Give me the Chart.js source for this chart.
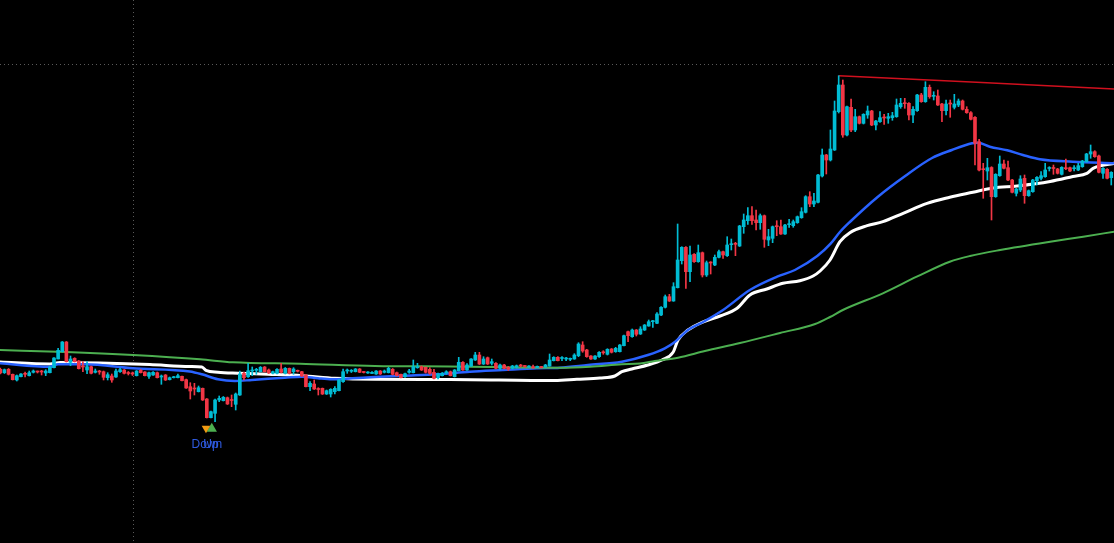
<!DOCTYPE html>
<html>
<head>
<meta charset="utf-8">
<script src="https://cdn.jsdelivr.net/npm/chart.js@4.4.1/dist/chart.umd.min.js"></script>
<style>
  html, body { margin: 0; padding: 0; background: #000; overflow: hidden; }
  #wrap { width: 1114px; height: 543px; position: relative; }
</style>
</head>
<body>
<div id="wrap"><canvas id="chart"></canvas></div>
<script>
// Candle data, one entry per bar
const opens = [
  173.7,170.3,173.7,168.7,163,166.3,169.3,167.3,170.7,171.5,171.5,170,170.3,175.3,184,191.3,201,180.7,184.7,182,
  176.5,173,176.3,170.7,171.5,171.3,165.3,167,166,171.3,173,170,169.7,167.3,172.7,171,166.7,168,170.3,166,
  168,163.3,165.3,165.3,166.7,163.3,156.3,155,151.3,154.7,144,125.3,129.7,143,142.3,145.3,143,138.7,148,169.7,
  166.3,172,172.7,171.3,176,173,169.7,169.7,174,169.7,174.7,171.3,172.5,171.3,168,156.3,159,154,154.7,149,
  149,151.3,152.3,161.3,172,171.7,171.3,174,170.9,170,169.5,169,172,170.7,170.3,173.7,170.3,168.7,166.3,170.7,
  170.3,175.3,176.3,175.7,173.7,170.7,165.3,167.3,170,171.3,166.3,172.3,180.7,173,177,183,188,179,185.3,179.7,
  179.7,174.7,178,175.7,174.7,175.7,177.5,176.9,176,176.3,175.7,176,176,177,182.3,185.7,184.5,184,183.7,184,
  187.3,198,193,187,184,186.3,190.7,188.7,194,191.3,191.3,197.3,211.3,206.3,213,209,213,217,221.3,219.7,
  228,235.7,246.3,242,255.3,282.3,295.7,271.3,288.7,281.3,290.3,268,280.5,278,285.7,291.3,287.3,298.3,299.3,297,
  316.3,322.3,327.3,323,320.3,327.3,303,304.7,316.7,316.3,309,318.3,317.3,320.3,325.3,330.7,346.3,339,340.7,367,
  388,383,393,431.3,458,408,435.7,413,426.3,419.7,428,432,418,421.3,425.5,424.7,425.3,426.3,436.3,440,
  439.7,428,432.3,448,441.3,455.7,446.7,447,439,432.3,439.3,435.7,438,442,433.7,430.3,425.7,401.3,373.7,372,
  375.5,346.3,367.3,379,375.3,363,349.7,353,364.7,347.3,351.3,362.3,364.7,366.3,374.5,375.3,374,368.7,374.7,375.3,
  374.3,373,376.3,381.3,389,391.3,387,369.7,373.7,365.3
];
const highs = [
  175,174,174.5,169,168,169.5,171,172,173,172,172.7,173.3,176.5,185.5,194.7,201.5,201.5,187,185.3,182.5,
  181.3,181.3,177,174,172.7,172,170.3,169,174,175,173.5,171.5,171,172.5,173.5,171.5,171,171.5,171,168,
  168.5,166,166.7,169,167,164,160.3,159.7,157,155,144.5,132,144,147,146.5,146,148,150,172,171,
  179.7,176,174.7,176.5,176.5,174,172,174.5,179.7,175.5,175,175.3,173,171.7,168.5,161.3,163,155.3,155,153,
  154.3,156.3,163.5,174,174,173.5,174.5,174.5,171.5,171.5,171.3,172.5,172.5,173,175.7,174.5,171,169,170,173.7,
  183,179.7,177,176,175.3,173.7,170,170.5,172.3,172,173.5,185.7,181.3,179.3,184.5,190.7,190.7,186.3,186,184,
  180.5,179,178.7,176.5,177.7,178,178.7,177.7,177.5,178,177,176.7,178.7,189,186.3,186.5,186.3,185.7,185,189.3,
  200.3,201.3,193.7,187.5,187.5,191.3,192.3,194.3,194.5,195.7,198.5,208,212,214,213.5,216.3,218.5,223,222.7,230.3,
  236.5,248,248.7,260.3,319,296.3,296.3,297,289.3,298,291,282,281.3,288,293,292,306.3,304,300.7,317.7,
  329,335.3,336.3,333,329,328,313.7,317,322.3,323,318.7,323.7,323,327,335.3,347.3,351.3,349.7,368.7,394,
  388.7,413,442,467.3,463,437,444,433.7,427,429.3,437,432.7,422.7,431.3,428.7,429.7,430.7,444,444.7,444.7,
  440.3,436.3,448.7,449.7,461.3,458,451.3,453,439.7,443,443,448.7,444,443,436.3,431.3,426.3,403.7,379.7,384.7,
  376.3,369.3,387,383,382,363.7,354.7,367.3,368,353,363.7,366.3,371.3,379.7,376.3,378,374.7,376.3,384,376,
  377.3,379.7,382.7,389.7,398,392.3,388,375.3,374.3,371.3
];
const lows = [
  169,169.5,168,163,162,166,166,167,170,170,168,167.3,170,175,184,191,181,177.3,181,174,
  171.3,169.3,169,170,168.7,163,163,160.7,165.5,170.7,169,168,167.5,167,170,167,164.7,167.5,165,158.7,
  162.5,163,165,165,162,154.5,144,148,151,142.5,125,125,121.3,141.3,142,138.5,136.3,133,147.5,163,
  165.5,167.3,168.7,171,171,169.5,169,169,170,169,169,168.7,171,166.5,156,152.3,153.5,148,148.5,148.5,
  146,149,152,160.7,169.7,170.5,171,170.3,170,169.7,169.3,168.5,168.5,170,170,168,167,165,165.5,169.7,
  170,174.7,172.5,170,168.7,164,164,167,168.7,167,166,172,172.5,172.5,176.5,182.5,178.5,178.5,178.5,178,
  174,173,174,172.5,174,175,176,175.7,175.5,174.7,175.3,175,175.7,176.7,182,182,182.3,182.3,182.3,183.7,
  186.3,190.7,185.7,183.5,183.5,185.7,188.7,188,190,190.7,191,197,201.3,205.7,207,208.5,212.5,216.7,215.7,219.3,
  227.3,235,241.5,241.7,255,279,254.7,261.3,280.7,280.7,266,266.5,269,277.3,285,284.7,286.5,293,287.3,296.5,
  309.7,318.7,318.7,313,313.7,295.7,297.3,300.3,307.3,308.5,308.5,315.7,315.7,319.7,324.7,330,336.3,336.3,340,366,
  369,382,392.5,430,405.7,407,411.3,411.3,419,419,424.7,417.3,413,420.7,418.7,419.7,422.7,425.7,434.7,434.7,
  423,420.3,431.7,440.7,440.7,444.7,443,437.5,421.3,428,425.7,434,436.3,433,429.7,423,378,372,344.7,363,
  323,345.7,366.7,374,362.3,350,347,351.3,339.7,346.7,350.7,358,363,365.7,372,368.7,369,368,373.3,371.3,
  372,372.3,375.7,380.7,384.7,385.7,370,364.7,364,358
];
const closes = [
  170,173.3,168.7,163.3,167.3,169,168.7,170.3,172,171,171,172,176,185,192.7,201,181.3,184,181.3,174.3,
  176,176.3,169.7,172,171,165.7,168.3,163,172,173.3,169.7,169.5,169,172,170.3,167.3,170.3,170.7,165.3,166.7,
  163,165.3,166,167.3,162.3,155,152,154,155.3,143,125.3,131.3,143,144.7,145.7,139,142.5,149,169,165.3,
  172.3,172.5,173.5,175.7,171.3,170,171.3,173.7,170.7,174.7,169.7,174,171.7,167,156.3,159.7,154,153.5,149,152.3,
  153.7,154.7,163,171.3,172.5,172.3,174,170.7,170.5,170.7,170.7,172,169,172,174.7,168.7,167.3,165.3,169.3,172,
  176.3,176.3,173,170.7,169.7,164.7,169,169.7,171.3,167.3,173,180.7,173,178,184,188,179,184,179,181.3,
  174.7,178,174.7,173.7,177,177.3,177,176.5,176.7,175.3,176.3,175.5,178,183,185.7,182.3,185.5,184.7,184.7,188,
  199,192,186.3,184,187,190.7,190.2,193.7,190.7,194.7,198,207.3,207.3,213,208.7,214,218,221.3,222.3,229,
  235.7,246.3,242,256.3,283,295.7,271.3,288,281.3,290.3,268,280.3,280,285.7,291.3,288,298,299.3,298.7,317,
  323,327.3,322.3,320.3,327.3,303.7,306.3,316.3,316.3,309,318,319,321.3,326.3,331.3,346.3,339,342,368,388,
  383,394,432,458,408,436.3,413,426.3,419.7,428.7,432,418,422,425.3,425,426.3,427.3,438,439.7,439.3,
  428,433.7,448,441.3,455.7,446.3,447.3,438,432.3,439,439,439,442,433.7,430.3,423.7,399.7,373,373.3,375.3,
  346.3,368.7,379,374.7,363,350.7,354,364,347.3,352.3,363,365.7,367.3,373,375.3,374.5,369.7,375.7,374.3,372,
  375.3,377.3,382,389,391.3,386.3,370.7,374.7,364.7,370.7
];

// Overlay lines as [bar index, price] samples
const whiteLine = [
  [-0.1,181],[12,179],[14.5,180.5],[24.1,180],[36.2,178.5],[45.9,176.5],[48.8,176],[49.8,172.7],[52.7,170.7],
  [57.6,169.7],[64.8,168.7],[73.1,167.3],[81,164.7],[90.7,163.7],[108.9,163.5],[134.3,162.5],[139.6,163.7],
  [145.2,165],[148.8,167],[150.5,171.3],[152.9,174],[156.8,178],[160.2,183],[162.9,190.7],[164.1,203],
  [166.5,213],[169.9,220.7],[174.3,227],[178.4,234.7],[181.5,248],[185.6,254],[189.5,259.7],[193.6,262.3],
  [196.8,267],[198.5,272],[200.9,283],[203.3,301.3],[205.7,310.3],[209.9,317.3],[213.7,321.3],[218.6,329.7],
  [224.4,339.7],[229.9,345.7],[235.5,350.7],[240.4,355],[246.2,357],[254.2,361.5],[259.7,366.5],[263.1,369.7],
  [264.6,374.7],[269.7,379.7]
];
const blueLine = [
  [-0.1,179.7],[12,176.3],[14,178.7],[20.5,178.7],[32.1,174.7],[45.9,171.5],[48.8,168.7],[52.7,163.7],
  [56.8,162],[60.9,163],[68.9,165.3],[73.1,166.3],[76.9,164.7],[80.3,163.7],[85.2,164.7],[90.7,166],
  [97.5,167.3],[105.7,168.7],[113.7,171.3],[121.7,173],[129.9,174.7],[135.5,175.3],[142.3,178],[150.5,181.3],
  [156.8,188],[160.9,194.7],[163.4,201.3],[166.5,213],[170.6,222],[175,233],[181.5,253],[188.1,266.3],
  [192.4,273],[197.8,287],[201.1,299.7],[203.3,311],[205.7,321],[212.5,346.3],[219.1,367],[225.6,385],
  [230.4,393],[235.3,399.7],[236.7,400.3],[239.6,396.3],[243.8,392.7],[247.6,388],[251.7,383.7],
  [259.7,381.3],[269.7,379.7]
];
const greenLine = [
  [-0.1,193],[15.9,191],[32.1,188],[48.4,183.7],[56.3,180.7],[72.6,179.3],[90.7,177],[108.9,176.5],
  [135.5,175.3],[142.8,176.3],[150.5,178.7],[154.9,179.5],[158.5,182],[164.1,185.3],[170.6,192],[179.1,200],
  [188.8,210],[197.3,219],[200.9,226],[204,233],[213.7,249.7],[221.9,266.3],[229.9,281.3],[234.8,287],
  [242.1,293],[254.2,301.3],[262.2,306.3],[269.7,311.3]
];
const trendLine = [[203, 467.3], [269.7, 454]];

// Reference marks: dotted level and dotted bar marker
const levelPrice = 479;
const markerBar = 32.15;

// Signal markers below the dip
const downSignal = [[49.8, 114.8]];
const upSignal = [[51.2, 114.3]];
const signalLabels = [['Down', 50, 95], ['Up', 51, 95]];

const UP = '#00bcd4';
const DOWN = '#f23645';

const toXY = arr => arr.map(p => ({ x: p[0], y: p[1] }));

const bodies = opens.map((o, i) => ({ x: i, y: [o, closes[i]] }));
const wicks = highs.map((h, i) => ({ x: i, y: [lows[i], h] }));
const candleColors = opens.map((o, i) => closes[i] >= o ? UP : DOWN);

// Dotted level / marker lines and the signal captions
const overlayPlugin = {
  id: 'overlay',
  beforeDatasetsDraw(chart) {
    const { ctx, chartArea, scales } = chart;
    ctx.save();
    ctx.strokeStyle = '#5a5a5a';
    ctx.lineWidth = 1;
    ctx.setLineDash([1, 3]);
    const y = Math.round(scales.y.getPixelForValue(levelPrice)) + 0.5;
    ctx.beginPath();
    ctx.moveTo(chartArea.left, y);
    ctx.lineTo(chartArea.right, y);
    ctx.stroke();
    const x = Math.round(scales.x.getPixelForValue(markerBar)) + 0.5;
    ctx.beginPath();
    ctx.moveTo(x, chartArea.top);
    ctx.lineTo(x, chartArea.bottom);
    ctx.stroke();
    ctx.restore();
  },
  afterDatasetsDraw(chart) {
    const { ctx, scales } = chart;
    ctx.save();
    ctx.fillStyle = '#2f5be0';
    ctx.font = '12px "Liberation Sans", Arial, sans-serif';
    ctx.textAlign = 'center';
    ctx.textBaseline = 'alphabetic';
    signalLabels.forEach(l => {
      ctx.fillText(l[0], scales.x.getPixelForValue(l[1]), scales.y.getPixelForValue(l[2]));
    });
    ctx.restore();
  }
};

const lineSet = (data, color, width, order) => ({
  type: 'line',
  data: toXY(data),
  borderColor: color,
  borderWidth: width,
  pointRadius: 0,
  cubicInterpolationMode: 'monotone',
  fill: false,
  order: order
});

new Chart(document.getElementById('chart'), {
  type: 'bar',
  data: {
    datasets: [
      {
        data: bodies,
        backgroundColor: candleColors,
        barThickness: 3,
        minBarLength: 1,
        grouped: false,
        borderWidth: 0,
        order: 0
      },
      {
        data: wicks,
        backgroundColor: candleColors,
        barThickness: 1,
        grouped: false,
        borderWidth: 0,
        order: 1
      },
      {
        type: 'line',
        data: toXY(downSignal),
        showLine: false,
        pointStyle: 'triangle',
        rotation: 180,
        pointRadius: 5,
        pointBackgroundColor: '#f39c12',
        pointBorderWidth: 0,
        order: 0
      },
      {
        type: 'line',
        data: toXY(upSignal),
        showLine: false,
        pointStyle: 'triangle',
        pointRadius: 6,
        pointBackgroundColor: '#4caf50',
        pointBorderWidth: 0,
        order: 0
      },
      lineSet(trendLine, '#d0101e', 1.5, 2),
      lineSet(greenLine, '#4caf50', 2, 3),
      lineSet(blueLine, '#2962ff', 2.5, 3),
      lineSet(whiteLine, '#ffffff', 3, 3)
    ]
  },
  options: {
    responsive: true,
    maintainAspectRatio: false,
    animation: false,
    layout: { padding: 0, autoPadding: false },
    scales: {
      x: { type: 'linear', min: -0.073, max: 269.66, offset: false, display: false },
      y: { min: 0, max: 543, display: false }
    },
    plugins: {
      legend: { display: false },
      tooltip: { enabled: false }
    }
  },
  plugins: [overlayPlugin]
});
</script>
</body>
</html>
